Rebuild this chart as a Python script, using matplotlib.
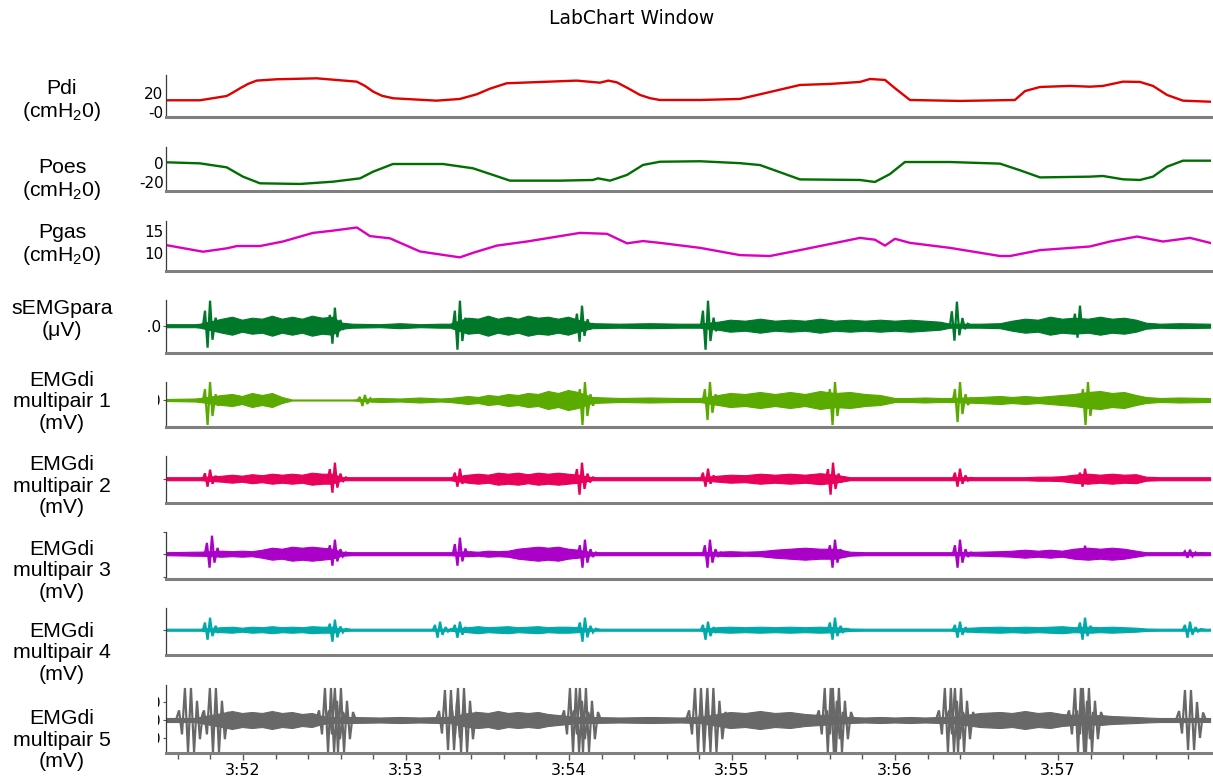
import numpy as np
import matplotlib
matplotlib.use("Agg")
import matplotlib.pyplot as plt
from matplotlib.transforms import Bbox, TransformedBbox

# ---------------- data ----------------
title = "LabChart Window"
x_tick_pos = [232, 233, 234, 235, 236, 237]
x_tick_labels = ["3:52", "3:53", "3:54", "3:55", "3:56", "3:57"]
t_start, t_end = 231.526, 237.937

channel_labels = ["Pdi\n(cmH$_2$0)", "Poes\n(cmH$_2$0)", "Pgas\n(cmH$_2$0)",
                  "sEMGpara\n(\u03bcV)",
                  "EMGdi\nmultipair 1\n(mV)", "EMGdi\nmultipair 2\n(mV)",
                  "EMGdi\nmultipair 3\n(mV)", "EMGdi\nmultipair 4\n(mV)",
                  "EMGdi\nmultipair 5\n(mV)"]

pdi_t = [231.53, 231.736, 231.900, 231.939, 231.982, 232.031, 232.084, 232.207, 232.452,
         232.698, 232.748, 232.799, 232.853, 232.922, 233.188, 233.331, 233.434, 233.515,
         233.618, 234.047, 234.190, 234.241, 234.293, 234.362, 234.436, 234.497, 234.558,
         234.804, 235.049, 235.233, 235.417, 235.601, 235.785, 235.847, 235.939, 236.000,
         236.092, 236.399, 236.736, 236.798, 236.890, 237.074, 237.196, 237.276, 237.399,
         237.503, 237.583, 237.669, 237.767, 237.933]
pdi_v = [12.3, 12.3, 16.8, 20.5, 24.9, 29.5, 33.0, 34.4, 35.4,
         31.9, 27.5, 21.4, 17.0, 14.4, 11.9, 13.7, 18.6, 24.5,
         30.2, 33.0, 30.8, 33.0, 31.2, 25.0, 17.9, 14.5, 12.6,
         12.6, 13.7, 21.0, 28.4, 29.5, 31.6, 34.7, 33.7, 25.0,
         12.6, 11.6, 12.6, 22.0, 26.3, 27.4, 26.6, 27.4, 31.9,
         31.6, 27.4, 17.9, 11.9, 10.8]

poes_t = [231.53, 231.736, 231.900, 232.000, 232.104, 232.350, 232.552, 232.718, 232.798,
          232.920, 233.227, 233.411, 233.534, 233.638, 233.945, 234.147, 234.178, 234.252,
          234.356, 234.454, 234.558, 234.804, 235.049, 235.172, 235.294, 235.417, 235.785,
          235.877, 235.969, 236.061, 236.337, 236.644, 236.767, 236.890, 237.196, 237.276,
          237.399, 237.503, 237.583, 237.669, 237.767, 237.933]
poes_v = [0.4, -0.7, -4.9, -14.7, -21.7, -22.4, -20.0, -16.5, -9.5,
          -1.4, -1.4, -5.9, -12.9, -18.9, -18.9, -18.2, -16.5, -18.9,
          -12.9, -2.4, 1.0, 1.5, -0.5, -2.5, -10.0, -17.6, -18.2,
          -20.3, -12.0, 0.7, 0.7, -1.0, -8.0, -15.5, -14.7, -14.0,
          -17.5, -18.2, -14.7, -4.2, 2.1, 2.1]

pgas_t = [231.53, 231.755, 231.902, 231.963, 232.104, 232.245, 232.429, 232.552, 232.699,
          232.779, 232.902, 233.086, 233.331, 233.411, 233.558, 233.742, 234.067, 234.233,
          234.356, 234.454, 234.558, 234.804, 235.049, 235.233, 235.417, 235.663, 235.785,
          235.877, 235.939, 236.000, 236.092, 236.337, 236.644, 236.706, 236.890, 237.196,
          237.319, 237.485, 237.644, 237.810, 237.933]
pgas_v = [11.8, 10.35, 11.1, 11.6, 11.6, 12.6, 14.5, 15.0, 15.7,
          13.8, 13.3, 10.4, 9.1, 10.1, 11.7, 12.6, 14.5, 14.3,
          12.2, 12.7, 12.3, 11.2, 9.6, 9.4, 10.7, 12.5, 13.4,
          13.0, 11.7, 13.2, 12.3, 11.2, 9.4, 9.4, 10.7, 11.5,
          12.6, 13.7, 12.6, 13.4, 12.3]

# cardiac-artifact waveform shape (seconds, normalised)
qrs_dt = [-0.043, -0.031, -0.015, 0.0, 0.015, 0.034, 0.049, 0.067, 0.086]
qrs_v = [0.0, 0.6, -1.0, 1.0, -0.64, 0.32, -0.23, 0.08, 0.0]
# longer multi-swing artifact shape of multipair 5
qrs5_dt = [-0.086, -0.067, -0.049, -0.031, -0.012, 0.006, 0.025, 0.043, 0.061, 0.080, 0.098]
qrs5_v = [0.0, 0.3, -0.45, 1.0, -1.0, 1.0, -1.0, 0.6, -0.6, 0.25, 0.0]

# times at which the EMG envelopes were read (s)
emg_env_t = [231.52, 231.706, 231.736, 231.871, 231.933, 231.994, 232.055, 232.117, 232.178,
             232.239, 232.301, 232.362, 232.423, 232.485, 232.546, 232.607, 232.669, 232.840,
             232.963, 233.086, 233.209, 233.270, 233.380, 233.442, 233.503, 233.564, 233.626,
             233.687, 233.748, 233.810, 233.871, 233.933, 233.994, 234.055, 234.141, 234.313,
             234.497, 234.681, 234.804, 234.914, 234.988, 235.080, 235.172, 235.264, 235.356,
             235.448, 235.540, 235.632, 235.724, 235.816, 235.908, 236.000, 236.092, 236.184,
             236.276, 236.337, 236.521, 236.644, 236.718, 236.798, 236.877, 236.951, 237.025,
             237.098, 237.184, 237.258, 237.331, 237.405, 237.479, 237.540, 237.626, 237.748,
             237.933]

# EMG envelopes (half amplitude, arbitrary units) and cardiac artifacts
semg_env_a = [1.5, 1.5, 2, 7, 9, 6, 8, 7, 10,
              7, 9, 7, 10, 8, 9, 3, 2, 1.5,
              2.5, 1.5, 2, 2, 8, 7, 10, 7, 9,
              7, 10, 8, 9, 7, 9, 6, 2.5, 2,
              2.5, 2, 2, 4, 6, 5, 7, 5, 6,
              5, 7, 5, 6, 5, 6, 5, 6, 5,
              4, 2, 2, 2.5, 5, 7, 6, 9, 7,
              8, 7, 9, 7, 8, 6, 3, 2, 2.5,
              2]
semg_spk_t = [231.798, 232.564, 233.331, 234.080, 234.853, 236.380, 237.135]
semg_spk_up = [25, 18, 25, 20, 25, 24, 20]
semg_spk_dn = [22, 18, 24, 16, 24, 15, 12]

emg1_env_a = [1, 1.5, 2, 5, 6, 4, 7, 5, 7,
              3, 0.5, 0.5, 0.5, 0.5, 0.5, 0.5, 0.5, 2,
              1.5, 2.5, 1.5, 2, 4, 3, 5, 4, 6,
              5, 7, 6, 9, 7, 10, 8, 3, 2,
              2.5, 2, 2, 5, 7, 6, 8, 6, 8,
              6, 9, 7, 8, 6, 5, 2, 2, 2.5,
              2, 2, 3, 4, 3, 4, 3, 4, 5,
              6, 8, 9, 7, 8, 5, 3, 2, 2.5,
              2]
emg1_spk_t = [231.798, 232.748, 234.098, 234.865, 235.632, 236.399, 237.184]
emg1_spk_up = [18, 5, 18, 18, 18, 18, 18]
emg1_spk_dn = [25, 6, 25, 20, 25, 22, 25]

emg2_env_a = [1.5, 1.5, 1.5, 3, 4, 3, 4.5, 3.5, 5,
              4, 5, 4, 6, 5, 5, 1.5, 1.5, 1.5,
              1.5, 1.5, 1.5, 1.5, 4, 5, 4, 6, 5,
              6, 4.5, 6, 5, 6, 5, 4, 1.5, 1.5,
              1.5, 1.5, 1.5, 3, 4, 3.5, 5, 4, 5,
              4, 5.5, 4, 1.5, 1.5, 1.5, 1.5, 1.5, 1.5,
              1.5, 1.5, 1.5, 1.5, 1.5, 1.5, 2, 2, 2.5,
              4, 5, 4, 5, 4, 4.5, 2, 1.5, 1.5,
              1.5]
emg2_spk_t = [231.798, 232.564, 233.331, 234.080, 234.853, 235.620, 236.399, 237.166]
emg2_spk_up = [9, 16, 10, 16, 10, 16, 10, 10]
emg2_spk_dn = [8, 14, 8, 16, 8, 16, 8, 8]

emg3_env_a = [1.5, 2, 2, 3, 2.5, 3, 2.5, 4, 6,
              5, 7, 6, 7, 6, 5, 2, 1.5, 1.5,
              1.5, 1.5, 1.5, 1.5, 2.5, 2, 3, 2.5, 3,
              5, 6, 7, 6, 7, 5, 4, 1.5, 1.5,
              1.5, 1.5, 1.5, 2, 2.5, 2, 2.5, 4, 5,
              6, 5, 5, 2, 1.5, 1.5, 1.5, 1.5, 1.5,
              1.5, 1.5, 2, 2.5, 3, 4, 3, 4, 3,
              5, 6, 5, 6, 5, 3, 1.5, 1.5, 1.5,
              1.5]
emg3_spk_t = [231.810, 232.564, 233.331, 234.098, 234.865, 235.632, 236.399, 237.166, 237.810]
emg3_spk_up = [18, 14, 16, 14, 14, 14, 14, 8, 4]
emg3_spk_dn = [14, 12, 12, 14, 14, 14, 14, 6, 4]

emg4_env_a = [1, 1, 1, 2.5, 3, 2, 3, 2.5, 3.5,
              2.5, 3, 2.5, 3.5, 3, 3, 1.2, 1, 1,
              1, 1, 1, 1, 2.5, 3.5, 2.5, 3, 3.5,
              2.5, 3, 3.5, 2.5, 3, 3, 2.5, 1, 1,
              1, 1, 1, 2.5, 3, 2.5, 3, 2.5, 3,
              2.5, 3, 2.5, 1.2, 1, 1, 1, 1, 1,
              1, 1, 2.5, 3, 2.5, 3, 2.5, 3, 3.5,
              2.5, 3, 2.5, 3, 2.5, 2, 1.2, 1, 1,
              1]
emg4_spk_t = [231.798, 232.564, 233.209, 233.331, 234.098, 234.853, 235.632, 236.399, 237.166, 237.810]
emg4_spk_up = [12, 10, 8, 8, 12, 8, 12, 8, 12, 8]
emg4_spk_dn = [10, 12, 8, 8, 12, 10, 10, 8, 10, 8]

emg5_env_a = [2, 2, 3, 7, 9, 7, 8, 7, 9,
              7, 8, 6, 7, 4, 3, 3, 3, 2.5,
              3, 2.5, 3, 3, 7, 8, 7, 9, 7,
              8, 7, 8, 6, 5, 4, 3, 3, 2.5,
              3, 2.5, 3, 6, 8, 7, 9, 7, 8,
              6, 5, 4, 3, 2.5, 3, 2.5, 3, 2.5,
              3, 3, 7, 8, 7, 9, 7, 8, 6,
              5, 4, 5, 4, 3.5, 3, 2.5, 2, 2,
              2]
emg5_spk_t = [231.675, 231.828, 232.534, 232.595, 233.270, 233.350, 234.037, 234.098,
              234.804, 234.880, 235.600, 235.650, 236.337, 236.399, 237.135, 237.184, 237.810]
emg5_spk_up = [32, 32, 32, 32, 30, 32, 32, 32, 32, 32, 32, 32, 32, 32, 32, 32, 30]
emg5_spk_dn = [32, 32, 32, 32, 30, 32, 32, 32, 32, 32, 32, 32, 32, 32, 32, 32, 30]

# ---------------- figure ----------------
W, H = 1213, 780
fig = plt.figure(figsize=(W / 100, H / 100), dpi=100)
fig.patch.set_facecolor("white")

LEFT, RIGHT = 165.7, 1210.7
panels = [(75, 117), (147, 191), (221, 271), (300, 353), (382, 427),
          (456, 503), (532, 579), (608, 655), (685, 753)]
colors = ["#e00000", "#006e00", "#dc00be", "#00782a", "#5aaa00",
          "#e8005a", "#aa00c8", "#00aaaa", "#686868"]
label_y = [101, 180, 245, 319.5, 402, 486, 571, 653, 740]
label_clip = [None, None, None, None, None, 518, 601.5, 686.5, None]

tick_font = dict(family="DejaVu Sans", size=11)
xtick_font = dict(family="DejaVu Sans", size=11.5)
label_font = "Liberation Sans"
plt.rcParams["mathtext.fontset"] = "custom"
plt.rcParams["mathtext.rm"] = "Liberation Sans"
plt.rcParams["mathtext.it"] = "Liberation Sans"

axes = []
for (top, bot) in panels:
    ax = fig.add_axes([LEFT / W, 1 - bot / H, (RIGHT - LEFT) / W, (bot - top) / H])
    ax.set_facecolor("none")
    ax.set_xlim(t_start, t_end)
    for s in ("top", "right"):
        ax.spines[s].set_visible(False)
    ax.spines["left"].set_color("#3a3a3a")
    ax.spines["left"].set_linewidth(0.9)
    ax.spines["bottom"].set_color("#7f7f7f")
    ax.spines["bottom"].set_linewidth(2.2)
    ax.tick_params(axis="x", bottom=False, labelbottom=False)
    ax.tick_params(axis="y", length=2, width=0.8, color="#555555", pad=1.5,
                   labelsize=11)
    axes.append(ax)

# pressure traces
ax = axes[0]
ax.plot(pdi_t, pdi_v, color=colors[0], lw=1.7)
ax.set_ylim(-5.3, 38.9)
ax.set_yticks([0, 20])
ax.set_yticklabels(["-0", "20"], fontdict=tick_font)
ax.tick_params(axis="y", length=0)

ax = axes[1]
ax.plot(poes_t, poes_v, color=colors[1], lw=1.7)
ax.set_ylim(-29.8, 16.5)
ax.set_yticks([-20, 0])
ax.set_yticklabels(["-20", "0"], fontdict=tick_font)
ax.tick_params(axis="y", length=0)

ax = axes[2]
ax.plot(pgas_t, pgas_v, color=colors[2], lw=1.7)
ax.set_ylim(6.09, 17.13)
ax.set_yticks([10, 15])
ax.set_yticklabels(["10", "15"], fontdict=tick_font)
ax.tick_params(axis="y", length=0)


def draw_emg(ax, env_t, env_a, spk_t, spk_up, spk_dn, color, tdt, tv):
    env_a = np.asarray(env_a, float)
    ax.fill_between(env_t, -env_a, env_a, color=color, lw=0.8, edgecolor=color)
    shp = np.asarray(tv, float)
    for t, up, dn in zip(spk_t, spk_up, spk_dn):
        y = np.where(shp > 0, shp * up, shp * dn)
        ax.plot(t + np.asarray(tdt), y, color=color, lw=1.6, solid_joinstyle="miter")


emg_sets = [
    (semg_env_a, semg_spk_t, semg_spk_up, semg_spk_dn, qrs_dt, qrs_v, (-27.3, 25.7)),
    (emg1_env_a, emg1_spk_t, emg1_spk_up, emg1_spk_dn, qrs_dt, qrs_v, (-27, 18)),
    (emg2_env_a, emg2_spk_t, emg2_spk_up, emg2_spk_dn, qrs_dt, qrs_v, (-24.3, 22.7)),
    (emg3_env_a, emg3_spk_t, emg3_spk_up, emg3_spk_dn, qrs_dt, qrs_v, (-25.3, 21.7)),
    (emg4_env_a, emg4_spk_t, emg4_spk_up, emg4_spk_dn, qrs_dt, qrs_v, (-25.3, 21.7)),
    (emg5_env_a, emg5_spk_t, emg5_spk_up, emg5_spk_dn, qrs5_dt, qrs5_v, (-33, 35)),
]
for i, (ea, st, su, sd, tdt, tv, yl) in enumerate(emg_sets):
    ax = axes[3 + i]
    draw_emg(ax, emg_env_t, ea, st, su, sd, colors[3 + i], tdt, tv)
    ax.set_ylim(*yl)

# clipped y tick labels on EMG panels (as in the reference window)
emg_ticks = [([0], ["0.0"], 148), ([0], ["0"], 157.5), ([0], ["0"], 160.5),
             ([-23.5, 0, 21.5], ["0", "0", "0"], 160.5), ([0], ["0"], 160.5),
             ([-18, 0, 18.3], ["0", "0", "0"], 157.5)]
for i, (tk, tl, clipx) in enumerate(emg_ticks):
    ax = axes[3 + i]
    ax.set_yticks(tk)
    ax.set_yticklabels(tl, fontdict=tick_font)
    bb = TransformedBbox(Bbox([[clipx / W, 0], [1, 1]]), fig.transFigure)
    for lab in ax.get_yticklabels():
        lab.set_clip_box(bb)
        lab.set_clip_on(True)

# bottom time axis
axb = axes[-1]
axb.tick_params(axis="x", bottom=True, labelbottom=True, length=5, width=1,
                color="#555555", pad=2, labelsize=11.5)
axb.tick_params(axis="x", which="minor", bottom=True, length=4, width=1, color="#555555")
axb.set_xticks(x_tick_pos)
axb.set_xticklabels(x_tick_labels, fontdict=xtick_font)
axb.set_xticks(np.arange(231.6, 237.95, 0.2), minor=True)
axb.set_xlim(t_start, t_end)

# channel names
for lab, yc, clip in zip(channel_labels, label_y, label_clip):
    t = fig.text(62 / W, 1 - yc / H, lab, ha="center", va="center",
                 fontsize=15.3, family=label_font, linespacing=1.15)
    if clip is not None:
        bb = TransformedBbox(Bbox([[0, 1 - clip / H], [1, 1]]), fig.transFigure)
        t.set_clip_box(bb)
        t.set_clip_on(True)

fig.text(632 / W, 1 - 18 / H, title, ha="center", va="center",
         fontsize=13.5, family="DejaVu Sans")

fig.savefig("out.png", dpi=100, facecolor="white")
